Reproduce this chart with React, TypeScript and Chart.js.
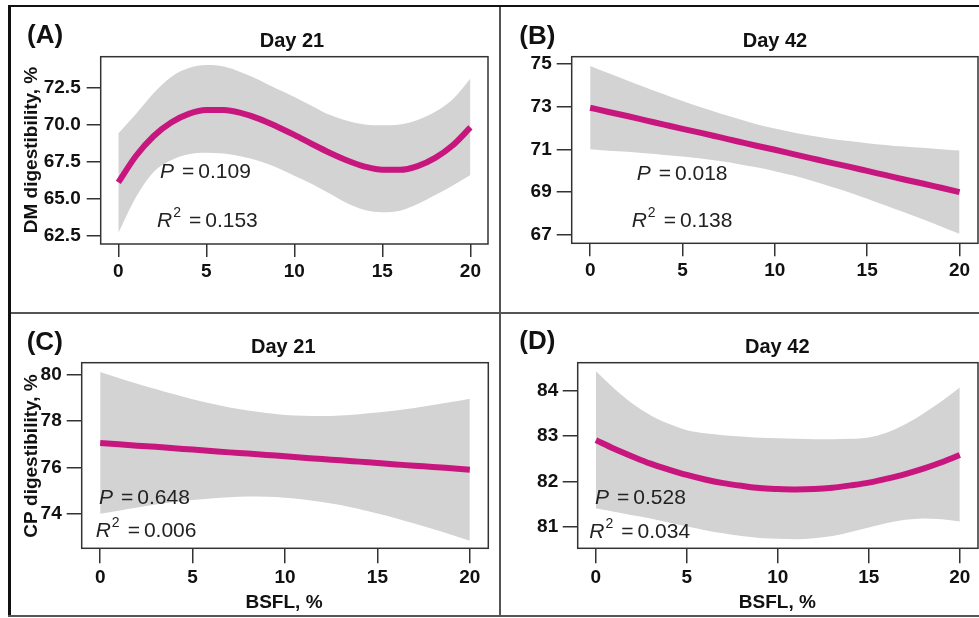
import React, { useEffect, useRef } from "react";
import { Chart, registerables } from "chart.js";

Chart.register(...registerables);

// ---------------- data ----------------
const bsfl = [0, 1, 2, 3, 4, 5, 6, 7, 8, 9, 10, 11, 12, 13, 14, 15, 16, 17, 18, 19, 20];
const xTicks = [0, 5, 10, 15, 20];
const xTickLabels = ["0", "5", "10", "15", "20"];

// (A) DM digestibility, Day 21
const dm21Fit = [66.1, 67.88, 69.21, 70.13, 70.71, 70.97, 70.97, 70.76, 70.38, 69.87, 69.3, 68.69, 68.1, 67.58, 67.17, 66.95, 66.95, 67.2, 67.75, 68.6, 69.8];
const dm21Upper = [69.4, 70.7, 72.1, 73.2, 73.8, 74.0, 73.9, 73.5, 73.0, 72.4, 71.85, 71.25, 70.65, 70.25, 70.0, 69.95, 70.0, 70.3, 70.85, 71.7, 73.1];
const dm21Lower = [62.7, 65.1, 66.8, 67.6, 68.0, 68.1, 68.05, 67.85, 67.55, 67.1, 66.55, 66.0, 65.35, 64.7, 64.25, 64.1, 64.2, 64.65, 65.25, 65.9, 66.6];
const dm21YTicks = [62.5, 65, 67.5, 70, 72.5];
const dm21YLabels = ["62.5", "65.0", "67.5", "70.0", "72.5"];

// (B) DM digestibility, Day 42
const dm42Fit = [72.95, 72.75, 72.56, 72.36, 72.16, 71.96, 71.77, 71.57, 71.37, 71.17, 70.98, 70.78, 70.58, 70.38, 70.19, 69.99, 69.79, 69.59, 69.4, 69.2, 69.0];
const dm42Upper = [74.9, 74.56, 74.23, 73.9, 73.58, 73.26, 72.97, 72.69, 72.43, 72.18, 71.98, 71.79, 71.64, 71.5, 71.39, 71.29, 71.21, 71.13, 71.07, 71.01, 70.95];
const dm42Lower = [71.0, 70.94, 70.89, 70.82, 70.74, 70.66, 70.57, 70.45, 70.32, 70.16, 69.98, 69.77, 69.53, 69.26, 68.99, 68.69, 68.37, 68.05, 67.73, 67.39, 67.05];
const dm42YTicks = [67, 69, 71, 73, 75];
const dm42YLabels = ["67", "69", "71", "73", "75"];

// (C) CP digestibility, Day 21
const cp21Fit = [77.06, 77.0, 76.94, 76.89, 76.83, 76.77, 76.71, 76.65, 76.6, 76.54, 76.48, 76.42, 76.36, 76.31, 76.25, 76.19, 76.13, 76.07, 76.02, 75.96, 75.9];
const cp21Upper = [80.13, 79.87, 79.62, 79.39, 79.16, 78.95, 78.76, 78.59, 78.46, 78.35, 78.27, 78.23, 78.22, 78.25, 78.3, 78.37, 78.46, 78.57, 78.7, 78.83, 78.97];
const cp21Lower = [73.99, 74.13, 74.26, 74.39, 74.5, 74.59, 74.66, 74.71, 74.74, 74.73, 74.69, 74.61, 74.5, 74.37, 74.2, 74.01, 73.8, 73.57, 73.34, 73.09, 72.83];
const cp21YTicks = [74, 76, 78, 80];
const cp21YLabels = ["74", "76", "78", "80"];

// (D) CP digestibility, Day 42
const cp42Fit = [82.91, 82.72, 82.55, 82.39, 82.26, 82.14, 82.04, 81.96, 81.9, 81.85, 81.83, 81.82, 81.83, 81.86, 81.91, 81.97, 82.06, 82.16, 82.28, 82.42, 82.58];
const cp42Upper = [84.43, 84.05, 83.72, 83.46, 83.27, 83.13, 83.06, 83.02, 82.99, 82.96, 82.95, 82.94, 82.93, 82.93, 82.94, 82.97, 83.08, 83.26, 83.5, 83.77, 84.07];
const cp42Lower = [81.4, 81.33, 81.25, 81.18, 81.09, 81.0, 80.92, 80.85, 80.79, 80.75, 80.73, 80.72, 80.74, 80.79, 80.88, 80.98, 81.08, 81.15, 81.18, 81.16, 81.11];
const cp42YTicks = [81, 82, 83, 84];
const cp42YLabels = ["81", "82", "83", "84"];

// ---------------- styles ----------------
const MAGENTA = "#C8167F";
const BAND = "#D3D3D3";
const FONT = '"Liberation Sans", Arial, Helvetica, sans-serif';

type PanelCfg = {
  left: number; top: number; width: number; height: number;
  area: { l: number; t: number; r: number; b: number }; // page coords of plot box
  yMin: number; yMax: number;
  fit: number[]; upper: number[]; lower: number[];
  yTicks: number[]; yLabels: string[];
  yTickLen: number; yPad: number; xTickLen: number; xPad: number;
  letter: string; letterPos: [number, number];
  title: string; titlePos: [number, number];
  yTitle?: string; yTitlePos?: [number, number];
  xTitle?: string; xTitlePos?: [number, number];
  pText: string; pPos: [number, number];
  rText: string; rPos: [number, number];
};

const panels: PanelCfg[] = [
  {
    left: 11, top: 7, width: 488, height: 305,
    area: { l: 100.7, t: 56.7, r: 488, b: 244 },
    yMin: 61.96, yMax: 74.56,
    fit: dm21Fit, upper: dm21Upper, lower: dm21Lower,
    yTicks: dm21YTicks, yLabels: dm21YLabels,
    yTickLen: 14, yPad: 6, xTickLen: 13, xPad: 3,
    letter: "(A)", letterPos: [27, 42.7],
    title: "Day 21", titlePos: [292, 46.5],
    yTitle: "DM digestibility, %", yTitlePos: [36.7, 150],
    pText: "0.109", pPos: [160, 178],
    rText: "0.153", rPos: [157, 226.5],
  },
  {
    left: 501, top: 7, width: 478, height: 305,
    area: { l: 571.7, t: 56.7, r: 978, b: 243.3 },
    yMin: 66.6, yMax: 75.34,
    fit: dm42Fit, upper: dm42Upper, lower: dm42Lower,
    yTicks: dm42YTicks, yLabels: dm42YLabels,
    yTickLen: 15, yPad: 5, xTickLen: 13, xPad: 3,
    letter: "(B)", letterPos: [519.3, 44],
    title: "Day 42", titlePos: [775, 46.7],
    pText: "0.018", pPos: [636.7, 180],
    rText: "0.138", rPos: [631.7, 226.7],
  },
  {
    left: 11, top: 314, width: 488, height: 301,
    area: { l: 81.7, t: 362.7, r: 488.3, b: 548.3 },
    yMin: 72.5, yMax: 80.53,
    fit: cp21Fit, upper: cp21Upper, lower: cp21Lower,
    yTicks: cp21YTicks, yLabels: cp21YLabels,
    yTickLen: 15, yPad: 5, xTickLen: 15, xPad: 3,
    letter: "(C)", letterPos: [26.7, 350],
    title: "Day 21", titlePos: [283.3, 352.7],
    yTitle: "CP digestibility, %", yTitlePos: [37.3, 456],
    xTitle: "BSFL, %", xTitlePos: [284, 608.3],
    pText: "0.648", pPos: [99, 504],
    rText: "0.006", rPos: [95.7, 536.7],
  },
  {
    left: 501, top: 314, width: 478, height: 301,
    area: { l: 577.7, t: 362.7, r: 978, b: 548.3 },
    yMin: 80.52, yMax: 84.62,
    fit: cp42Fit, upper: cp42Upper, lower: cp42Lower,
    yTicks: cp42YTicks, yLabels: cp42YLabels,
    yTickLen: 15, yPad: 4.5, xTickLen: 15, xPad: 3,
    letter: "(D)", letterPos: [519.3, 349.3],
    title: "Day 42", titlePos: [777.3, 352.7],
    xTitle: "BSFL, %", xTitlePos: [777.3, 608.3],
    pText: "0.528", pPos: [595, 504],
    rText: "0.034", rPos: [589.3, 538.3],
  },
];

function drawStat(ctx: CanvasRenderingContext2D, x: number, y: number, sym: string, sup: string | null, value: string) {
  ctx.save();
  ctx.fillStyle = "#222";
  ctx.textAlign = "left";
  ctx.textBaseline = "alphabetic";
  ctx.font = `italic 21px ${FONT}`;
  ctx.fillText(sym, x, y);
  let cx = x + ctx.measureText(sym).width;
  if (sup) {
    ctx.font = `14px ${FONT}`;
    ctx.fillText(sup, cx + 1, y - 10);
    cx += ctx.measureText(sup).width + 1;
  }
  ctx.font = `21px ${FONT}`;
  cx += 8;
  ctx.fillText("=", cx, y);
  cx += ctx.measureText("=").width + 4;
  ctx.fillText(value, cx, y);
  ctx.restore();
}

function Panel({ cfg }: { cfg: PanelCfg }) {
  const ref = useRef<HTMLCanvasElement | null>(null);
  useEffect(() => {
    const canvas = ref.current;
    if (!canvas) return;
    const ox = cfg.left;
    const oy = cfg.top;
    const chartLeft = cfg.area.l - ox;
    const chartTop = cfg.area.t - oy;
    const padRight = cfg.width - (cfg.area.r - ox);
    const xAxisH = cfg.height - (cfg.area.b - oy);

    const framePlugin = {
      id: "panelDecor",
      afterDraw(chart: any) {
        const ctx: CanvasRenderingContext2D = chart.ctx;
        const a = chart.chartArea;
        ctx.save();
        ctx.strokeStyle = "#333";
        ctx.lineWidth = 1.5;
        ctx.strokeRect(a.left, a.top, a.right - a.left, a.bottom - a.top);
        ctx.fillStyle = "#111";
        ctx.textBaseline = "alphabetic";
        ctx.textAlign = "left";
        ctx.font = `bold 26px ${FONT}`;
        ctx.fillText(cfg.letter, cfg.letterPos[0] - ox, cfg.letterPos[1] - oy);
        ctx.textAlign = "center";
        ctx.font = `bold 20px ${FONT}`;
        ctx.fillText(cfg.title, cfg.titlePos[0] - ox, cfg.titlePos[1] - oy);
        if (cfg.xTitle && cfg.xTitlePos) {
          ctx.font = `bold 19px ${FONT}`;
          ctx.fillText(cfg.xTitle, cfg.xTitlePos[0] - ox, cfg.xTitlePos[1] - oy);
        }
        if (cfg.yTitle && cfg.yTitlePos) {
          ctx.save();
          ctx.translate(cfg.yTitlePos[0] - ox, cfg.yTitlePos[1] - oy);
          ctx.rotate(-Math.PI / 2);
          ctx.font = `bold 19px ${FONT}`;
          ctx.fillText(cfg.yTitle, 0, 0);
          ctx.restore();
        }
        ctx.restore();
        drawStat(ctx, cfg.pPos[0] - ox, cfg.pPos[1] - oy, "P", null, cfg.pText);
        drawStat(ctx, cfg.rPos[0] - ox, cfg.rPos[1] - oy, "R", "2", cfg.rText);
      },
    };

    const pts = (arr: number[]) => arr.map((y, i) => ({ x: bsfl[i], y }));

    const chart = new Chart(canvas, {
      type: "line",
      data: {
        datasets: [
          {
            data: pts(cfg.fit),
            borderColor: MAGENTA,
            borderWidth: 6,
            pointRadius: 0,
            fill: false,
            cubicInterpolationMode: "monotone",
            borderCapStyle: "butt",
            order: 0,
          },
          {
            data: pts(cfg.upper),
            borderColor: "rgba(0,0,0,0)",
            borderWidth: 1,
            backgroundColor: BAND,
            pointRadius: 0,
            fill: "+1",
            cubicInterpolationMode: "monotone",
            order: 1,
          },
          {
            data: pts(cfg.lower),
            borderColor: "rgba(0,0,0,0)",
            borderWidth: 1,
            pointRadius: 0,
            fill: false,
            cubicInterpolationMode: "monotone",
            order: 2,
          },
        ],
      },
      options: {
        animation: false,
        responsive: false,
        maintainAspectRatio: false,
        devicePixelRatio: 1,
        events: [],
        layout: { padding: { left: 0, top: chartTop, right: padRight, bottom: 0 } },
        plugins: {
          legend: { display: false },
          tooltip: { enabled: false },
          title: { display: false },
        },
        scales: {
          x: {
            type: "linear",
            min: -1,
            max: 21,
            afterBuildTicks: (axis: any) => {
              axis.ticks = xTicks.map((v) => ({ value: v }));
            },
            afterFit: (scale: any) => {
              scale.height = xAxisH;
            },
            border: { display: false },
            grid: {
              drawOnChartArea: false,
              drawTicks: true,
              tickLength: cfg.xTickLen,
              color: "#333",
              lineWidth: 1.5,
            },
            ticks: {
              autoSkip: false,
              maxRotation: 0,
              padding: cfg.xPad,
              color: "#111",
              font: { family: FONT, size: 19, weight: "bold" },
              callback: (_v: any, i: number) => xTickLabels[i],
            },
          },
          y: {
            type: "linear",
            min: cfg.yMin,
            max: cfg.yMax,
            afterBuildTicks: (axis: any) => {
              axis.ticks = cfg.yTicks.map((v) => ({ value: v }));
            },
            afterFit: (scale: any) => {
              scale.width = chartLeft;
            },
            border: { display: false },
            grid: {
              drawOnChartArea: false,
              drawTicks: true,
              tickLength: cfg.yTickLen,
              color: "#333",
              lineWidth: 1.5,
            },
            ticks: {
              autoSkip: false,
              padding: cfg.yPad,
              color: "#111",
              font: { family: FONT, size: 19, weight: "bold" },
              callback: (_v: any, i: number) => cfg.yLabels[i],
            },
          },
        },
      } as any,
      plugins: [framePlugin],
    });
    return () => chart.destroy();
  }, [cfg]);

  return (
    <canvas
      ref={ref}
      width={cfg.width}
      height={cfg.height}
      style={{
        position: "absolute",
        left: cfg.left,
        top: cfg.top,
        width: cfg.width,
        height: cfg.height,
        display: "block",
      }}
    />
  );
}

export default function App() {
  const line = (s: React.CSSProperties) => <div style={{ position: "absolute", ...s }} />;
  return (
    <div
      style={{
        position: "fixed",
        left: 0,
        top: 0,
        width: 979,
        height: 618,
        background: "#fff",
        overflow: "hidden",
      }}
    >
      {panels.map((p, i) => (
        <Panel key={i} cfg={p} />
      ))}
      {line({ left: 8, top: 5, width: 971, height: 2, background: "#111" })}
      {line({ left: 8, top: 5, width: 3, height: 612, background: "#111" })}
      {line({ left: 499, top: 7, width: 2, height: 609, background: "#555" })}
      {line({ left: 11, top: 312, width: 968, height: 2, background: "#555" })}
      {line({ left: 8, top: 615, width: 971, height: 2, background: "#555" })}
    </div>
  );
}
